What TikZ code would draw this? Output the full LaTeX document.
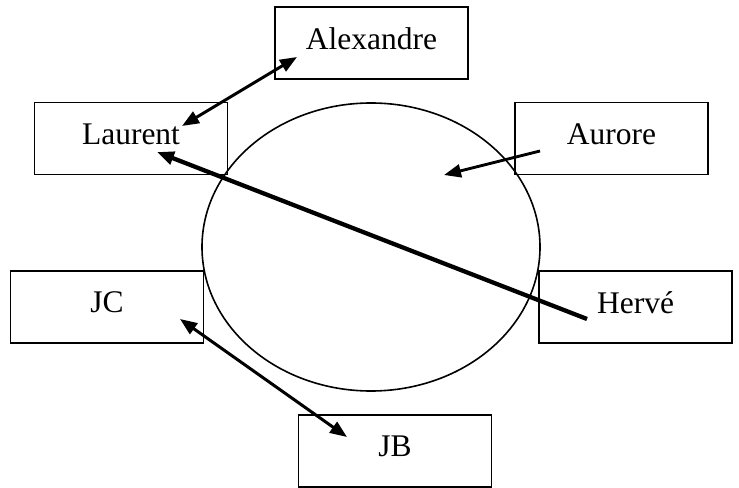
\documentclass[tikz,border=0pt]{standalone}
\usepackage{fontspec}
\setmainfont{Liberation Serif}
\usetikzlibrary{arrows.meta,shapes.geometric}
\begin{document}
\begin{tikzpicture}[x=1bp,y=-1bp,
  box/.style={draw,line width=1.9bp,minimum width=193bp,minimum height=72bp,inner sep=0pt,text depth=9bp,font=\fontsize{31.5bp}{36bp}\selectfont},
  conn/.style={line width=3bp,-{Triangle[length=17bp,width=13bp]}},
  bconn/.style={line width=3bp,{Triangle[length=17bp,width=13bp]}-{Triangle[length=17bp,width=13bp]}}]
\useasboundingbox (0,0) rectangle (739,488);
\node[ellipse,draw,line width=1.6bp,minimum width=338bp,minimum height=288bp,inner sep=0pt] (table) at (371,247) {};
\node[box] (alex) at (371.5,43) {Alexandre};
\node[box] (laurent) at (131,138.5) {Laurent};
\node[box] (aurore) at (611.5,138.5) {Aurore};
\node[box] (jc) at (107,307) {JC};
\node[box] (herve) at (635.5,307) {Hervé};
\node[box] (jb) at (395,451) {JB};
\coordinate (a1) at (297,57);
\coordinate (l1) at (182,126);
\coordinate (l2) at (157,152);
\coordinate (h1) at (587,319);
\coordinate (au1) at (540,151);
\coordinate (t1) at (444,175);
\coordinate (jc1) at (180,319);
\coordinate (jb1) at (347,437);
\draw[bconn] (l1) -- (a1);
\draw[conn,line width=4.3bp] (h1) -- (l2);
\draw[conn,line width=2.8bp] (au1) -- (t1);
\draw[bconn] (jc1) -- (jb1);
\end{tikzpicture}
\end{document}
